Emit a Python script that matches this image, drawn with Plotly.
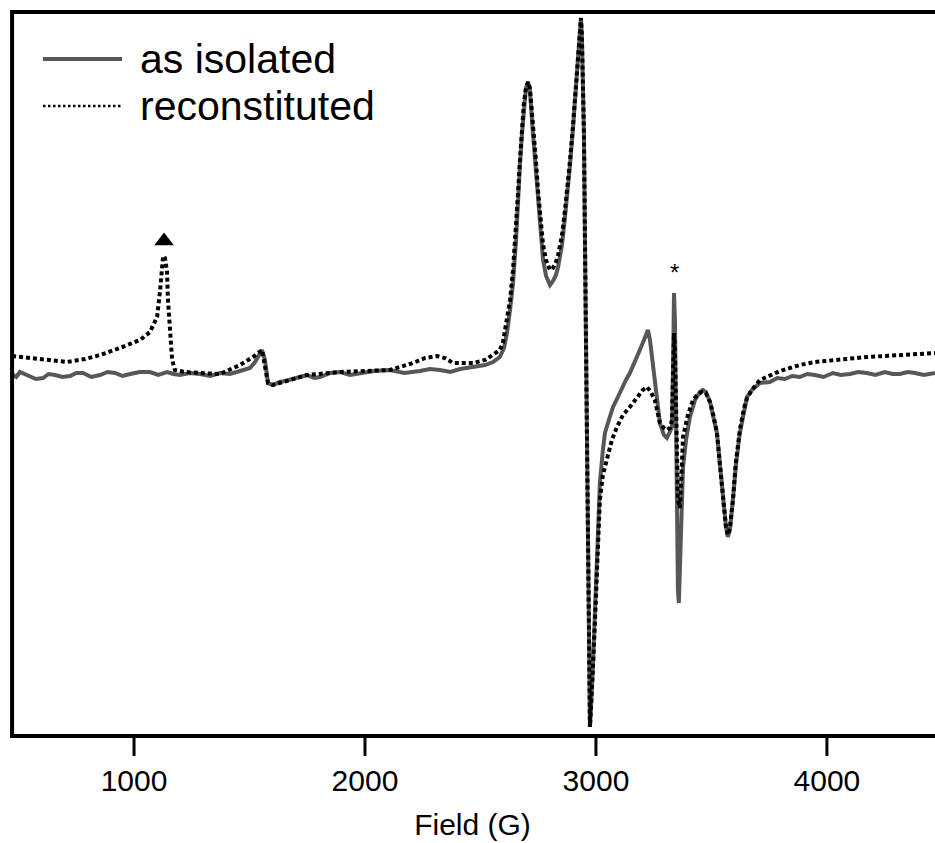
import plotly.graph_objects as go

# Field values (G) and intensities (arb. units)
iso_field = [472, 490, 506, 528, 550, 575, 606, 630, 658, 690, 723, 750, 779, 815, 853, 885, 918,
             950, 983, 1025, 1069, 1105, 1143, 1170, 1199, 1240, 1286, 1330, 1372, 1415,
             1459, 1502, 1524, 1554, 1567, 1580, 1602, 1630, 1654, 1700, 1749, 1780, 1805, 1850,
             1892, 1935, 1978, 2040, 2108, 2170, 2238, 2280,
             2325, 2370, 2411, 2468, 2520, 2554, 2584, 2602, 2615, 2628, 2641, 2654, 2662, 2671, 2680,
             2688, 2697, 2706, 2714, 2727, 2740, 2749, 2762, 2771, 2784, 2801, 2814, 2827, 2836,
             2853, 2866, 2879, 2887, 2900, 2909, 2918, 2922, 2931, 2935, 2939, 2944, 2948, 2952,
             2957, 2961, 2965, 2970, 2974, 2978, 2983, 2987, 2996, 3004, 3017, 3030, 3039, 3056,
             3074, 3095, 3113, 3130, 3147, 3169, 3190, 3208, 3225, 3234, 3247, 3260, 3277, 3294,
             3307, 3320, 3329, 3333, 3338, 3342, 3346, 3351, 3355, 3359, 3364, 3368, 3377, 3390,
             3407, 3429, 3450, 3463, 3476, 3494, 3511, 3524, 3537, 3550, 3563, 3571, 3580, 3593,
             3606, 3623, 3641, 3654, 3675, 3710, 3753, 3785, 3818, 3850, 3883, 3915, 3948, 3985,
             4026, 4060, 4100, 4135, 4173, 4210, 4251, 4285, 4316, 4350, 4381, 4420, 4468]
iso_int = [1, -2, 3, 1, -1, -4, -3, 1, 0, -2, -1, 2, 2, -2, 0, 3, 2,
           -1, 1, 3, 3, 0, 3, 1, 0, 2, 1, -1, 2, 1,
           4, 7, 13, 25, 15, -8, -10, -7, -6, -3, 0, -3, -2, 2,
           3, 0, 2, 4, 5, 2, 4, 6,
           5, 3, 6, 8, 10, 13, 18, 27, 42, 65, 92, 135, 175, 210, 242,
           270, 287, 293, 285, 242, 203, 175, 135, 115, 99, 90, 94, 100, 108,
           130, 158, 185, 208, 245, 275, 305, 325, 347, 357, 340, 295, 242, 145,
           42, -75, -185, -285, -352, -335, -315, -292, -235, -192, -108, -75, -58, -45,
           -32, -22, -12, -5, 2, 13, 25, 35, 45, 35, 8, -20, -48, -60,
           -63, -57, -52, -5, 82, 55, -45, -145, -215, -228, -195, -145, -92, -65,
           -42, -25, -17, -15, -17, -27, -43, -58, -90, -125, -152, -162, -155, -125,
           -90, -58, -35, -22, -15, -8, -7, -3, -4, -1, -2, 1, 0, -2,
           2, 0, 1, 3, 2, 0, 3, 1, 1, 3, 2, 0, 2]

rec_field = [472, 506, 593, 710, 788, 853, 939, 996, 1026, 1069, 1091, 1100, 1113, 1121, 1126,
             1134, 1143, 1147, 1156, 1165, 1177, 1221, 1286, 1372, 1459, 1515, 1554, 1580, 1602,
             1749, 1892, 2108, 2208, 2260, 2312, 2346, 2381, 2468, 2520, 2554, 2584, 2597, 2615,
             2628, 2641, 2654, 2662, 2671, 2680, 2688, 2697, 2706, 2714, 2727, 2740, 2749, 2762,
             2771, 2784, 2801, 2814, 2827, 2836, 2853, 2866, 2879, 2887, 2900, 2909, 2918, 2922,
             2931, 2935, 2939, 2944, 2948, 2952, 2957, 2961, 2965, 2970, 2974, 2978, 2983, 2987,
             2996, 3004, 3017, 3030, 3048, 3069, 3091, 3117, 3147, 3182, 3203, 3221, 3238, 3255,
             3268, 3277, 3294, 3307, 3320, 3329, 3333, 3338, 3342, 3346, 3351, 3355, 3364, 3368,
             3377, 3398, 3420, 3442, 3459, 3476, 3494, 3511, 3524, 3537, 3550, 3563, 3571, 3580,
             3593, 3606, 3623, 3641, 3654, 3675, 3710, 3753, 3797, 3853, 3883, 3948, 4026, 4100,
             4173, 4251, 4316, 4381, 4468]
rec_int = [19, 18, 16, 13, 16, 20, 27, 32, 35, 43, 53, 58, 85, 105, 119,
           117, 103, 75, 38, 15, 5, 3, 2, 1, 10, 18, 25, -8, -10,
           0, 3, 5, 12, 17, 19, 17, 12, 12, 15, 20, 25, 32, 55,
           75, 105, 145, 180, 215, 245, 272, 287, 293, 287, 255, 215, 185, 150,
           130, 115, 105, 107, 113, 120, 140, 165, 190, 213, 247, 275, 305, 325,
           347, 357, 340, 295, 242, 145, 42, -75, -185, -285, -352, -335, -315, -292,
           -245, -205, -125, -100, -82, -65, -52, -40, -32, -22, -15, -12, -17, -25,
           -40, -48, -53, -55, -53, -45, -5, 42, 25, -25, -85, -125, -133, -105,
           -62, -40, -25, -19, -17, -18, -27, -43, -58, -90, -125, -152, -160, -153,
           -125, -87, -55, -33, -23, -15, -5, 0, 4, 8, 10, 13, 15, 17,
           18, 19, 20, 21, 22]

tick_vals = [1000, 2000, 3000, 4000]
tick_text = ["1000", "2000", "3000", "4000"]

series_names = ["as isolated", "reconstituted"]

marker_field = [1130]
marker_int = [134]
star_field = 3338
star_int = 103

# axis frame (data units): visible frame and the extended plotting window
X_RANGE = [463, 4468]
Y_RANGE = [-382, 365]
FRAME_LEFT = 472
FRAME_TOP = 363
FRAME_BOTTOM = -361
TICK_LEN = 18

GRAY = "#575757"
FONT = "Liberation Sans, Arial"

fig = go.Figure()
fig.add_trace(go.Scatter(x=iso_field, y=iso_int, mode="lines", name=series_names[0],
                         showlegend=False, line=dict(color=GRAY, width=4)))
fig.add_trace(go.Scatter(x=rec_field, y=rec_int, mode="lines", name=series_names[1],
                         showlegend=False, line=dict(color="black", width=4, dash="4px,3px")))
fig.add_trace(go.Scatter(x=marker_field, y=marker_int, mode="markers", showlegend=False,
                         marker=dict(symbol="triangle-up", size=17, color="black")))
fig.add_annotation(x=star_field, y=star_int, text="*", showarrow=False,
                   font=dict(size=24, color="black", family=FONT))

frame = dict(color="black", width=4)
# left, top and bottom borders
fig.add_shape(type="line", xref="x", yref="y", x0=FRAME_LEFT, x1=FRAME_LEFT,
              y0=FRAME_BOTTOM - 2, y1=FRAME_TOP + 2, line=frame)
fig.add_shape(type="line", xref="x", yref="y", x0=FRAME_LEFT, x1=X_RANGE[1],
              y0=FRAME_TOP, y1=FRAME_TOP, line=frame)
fig.add_shape(type="line", xref="x", yref="y", x0=FRAME_LEFT, x1=X_RANGE[1],
              y0=FRAME_BOTTOM, y1=FRAME_BOTTOM, line=frame)
# outside tick marks at the tick values
for tv in tick_vals:
    fig.add_shape(type="line", xref="x", yref="y", x0=tv, x1=tv,
                  y0=FRAME_BOTTOM - 2, y1=FRAME_BOTTOM - 2 - TICK_LEN,
                  line=dict(color="black", width=3))

# legend (drawn in the upper-left corner, as in the reference)
legend_rows = [(59, dict(color=GRAY, width=4)),
               (106, dict(color="black", width=2.5, dash="2.5px,2.5px"))]
for (ly_px, lstyle), name in zip(legend_rows, series_names):
    ly = 1 - (ly_px - 10) / 747
    fig.add_shape(type="line", xref="paper", yref="paper", x0=33 / 925, x1=112 / 925, y0=ly, y1=ly,
                  line=lstyle)
    fig.add_annotation(xref="paper", yref="paper", x=128 / 925, y=ly, text=name,
                       showarrow=False, xanchor="left", yanchor="middle",
                       font=dict(size=41, color="black", family=FONT))

fig.update_layout(
    width=935, height=843,
    margin=dict(l=10, r=0, t=10, b=86),
    plot_bgcolor="white", paper_bgcolor="white",
    font=dict(family=FONT, color="black"),
    showlegend=False,
    xaxis=dict(range=X_RANGE, showgrid=False, zeroline=False, showline=False, ticks="",
               tickmode="array", tickvals=tick_vals, ticktext=tick_text,
               ticklabelstandoff=3,
               tickfont=dict(size=30), title=dict(text="Field (G)", font=dict(size=30), standoff=17)),
    yaxis=dict(range=Y_RANGE, showgrid=False, zeroline=False, showline=False,
               showticklabels=False, ticks=""),
)

fig.write_html("out.html")
